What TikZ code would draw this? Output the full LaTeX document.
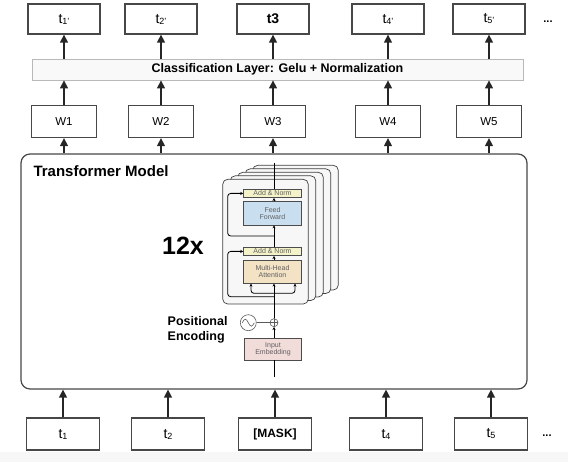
\documentclass[tikz,border=0pt]{standalone}
\usepackage{fontspec}
\setmainfont{Liberation Sans}
\usetikzlibrary{arrows.meta}
\definecolor{normcol}{HTML}{F4F2C8}
\definecolor{ffcol}{HTML}{C9DFF0}
\definecolor{attcol}{HTML}{F3E2C4}
\definecolor{embcol}{HTML}{F2DCDA}
\definecolor{framecol}{HTML}{474747}
\newcommand{\tk}[1]{t\raisebox{-1pt}{\fontsize{9}{9}\selectfont #1}}

\begin{document}
\begin{tikzpicture}[x=1pt, y=-1pt,
    token/.style={draw=framecol, line width=1.3pt, fill=white, minimum width=72pt, minimum height=30pt, inner sep=0pt, font=\fontsize{14}{14}\selectfont},
    weight/.style={token, minimum width=65pt, minimum height=32pt, font=\fontsize{11.5}{11.5}\selectfont},
    link/.style={-{Triangle[width=8pt,length=8pt]}, line width=1.3pt, black!85},
    layer/.style={draw=gray!50!black, fill=gray!6, rounded corners=5pt, line width=0.7pt},
    sub/.style={draw=gray!60!black, line width=0.5pt, inner sep=0pt, font=\fontsize{7}{7.5}\selectfont, text=gray!75!black, align=center, minimum width=58pt},
    flow/.style={-{Stealth[length=3pt,width=3pt]}, line width=0.8pt}
]
\useasboundingbox (0,0) rectangle (568,462);
\fill[gray!6] (0,452) rectangle (568,462);

% Output tokens
\foreach \x/\lab [count=\i] in {64/\tk{1'}, 161/\tk{2'}, 273/\textbf{t3}, 388/\tk{4'}, 489/\tk{5'}}
    \node[token] (o\i) at (\x,19) {\lab};
\node[font=\bfseries\fontsize{11}{11}\selectfont] (odots) at (548,22) {...};

% Classification layer
\node[draw=gray!55, fill=gray!5, line width=0.8pt, minimum width=491pt, minimum height=21pt, inner sep=0pt,
      font=\bfseries\fontsize{12.5}{13}\selectfont] (cls) at (277.5,69.5) {Classification Layer: Gelu + Normalization};

% Weights
\foreach \x [count=\i] in {64,161,273,388,489}
    \node[weight] (w\i) at (\x,121.5) {W\i};

% Transformer model
\node[draw=framecol, line width=1.2pt, rounded corners=9pt, minimum width=506pt, minimum height=235pt] (tm) at (274,271.5) {};
\node[font=\bfseries\fontsize{15}{15}\selectfont, anchor=west] (tmlab) at (30,171) {Transformer Model};

% Input tokens
\foreach \x/\lab [count=\i] in {63/\tk{1}, 168/\tk{2}, 275/{\bfseries\fontsize{12}{12}\selectfont [MASK]}, 386/\tk{4}, 491/\tk{5}}
    \node[token, minimum width=73pt, minimum height=32pt] (in\i) at (\x,434) {\lab};
\node[font=\bfseries\fontsize{11}{11}\selectfont] (idots) at (547,436) {...};

% Connections
\foreach \i in {1,...,5}{
    \draw[link] (o\i |- cls.north) -- (o\i);
    \draw[link] (w\i) -- (w\i |- cls.south);
    \draw[link] (w\i |- tm.north) -- (w\i);
    \draw[link] (in\i) -- (in\i |- tm.south);
}

% Encoder stack
\foreach \k in {4,3,2,1,0}
    \draw[layer, shift={(7.5*\k,-3.5*\k)}] (222.7,179.3) rectangle (308.3,304);
\node[sub, fill=normcol, minimum height=8.7pt] (an1) at (272.5,193.4) {Add \& Norm};
\node[sub, fill=ffcol, minimum height=23.3pt] (ff) at (272.5,213.4) {Feed\\Forward};
\node[sub, fill=normcol, minimum height=8.7pt] (an2) at (272.5,251.4) {Add \& Norm};
\node[sub, fill=attcol, minimum height=23.3pt] (mha) at (272.5,271.7) {Multi-Head\\Attention};
\node[sub, fill=embcol, minimum height=21.7pt, minimum width=57.4pt] (emb) at (273,349.2) {Input\\Embedding};
\node[circle, draw=gray!70!black, line width=0.6pt, minimum size=16pt, inner sep=0pt] (pe) at (248.3,322.7) {};
\node[circle, draw=gray!70!black, line width=0.6pt, minimum size=8pt, inner sep=0pt] (plus) at (274,322.7) {};
\coordinate (top) at (274,163);
\coordinate (j1) at (274,236);
\coordinate (j2) at (274,296.7);
\coordinate (j3) at (274,293.3);
\coordinate (bot) at (274,377);

\draw[line width=0.8pt] (an1.north -| top) -- (top);
\draw[flow] (ff.north -| top) -- (an1.south -| top);
\draw[flow] (an2.north -| top) -- (ff.south -| top);
\draw[flow] (mha.north -| top) -- (an2.south -| top);
\draw[flow] (plus) -- (mha.south -| top);
\draw[flow] (emb.north -| top) -- (plus);
\draw[line width=0.8pt] (bot) -- (emb.south -| top);
\draw[flow, rounded corners=3pt] (j1) -- ++(-46.3,0) |- (an1.west);
\draw[flow, rounded corners=3pt] (j2) -- ++(-46.3,0) |- (an2.west);
\draw[flow, rounded corners=3pt] (j3) -| ([xshift=-21.5pt]mha.south);
\draw[flow, rounded corners=3pt] (j3) -| ([xshift=22.5pt]mha.south);
\draw[gray!70!black, line width=0.6pt] (plus.north) -- (plus.south) (plus.west) -- (plus.east);
\draw[gray!70!black, line width=0.6pt] (pe) -- (plus);
\draw[gray!70!black, line width=0.6pt] ([xshift=-6pt]pe.center) sin ++(3,-3.5) cos ++(3,3.5) sin ++(3,3.5) cos ++(3,-3.5);

\node[font=\bfseries\fontsize{25}{25}\selectfont] (rep) at (183,246) {12x};
\node[font=\bfseries\fontsize{12.5}{15}\selectfont, align=left, anchor=east] (pelab) at (231,330) {Positional\\Encoding};

\end{tikzpicture}
\end{document}
